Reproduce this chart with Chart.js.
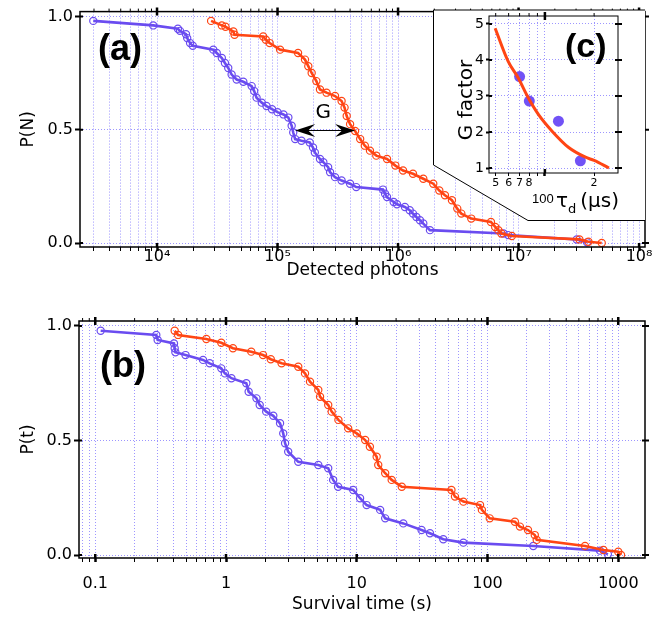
<!DOCTYPE html>
<html>
<head>
<meta charset="utf-8">
<script src="https://cdn.jsdelivr.net/npm/chart.js@4"></script>
<style>
  html, body { margin: 0; padding: 0; background: #fff; }
  #wrap { position: relative; width: 668px; height: 619px; overflow: hidden; }
  canvas { position: absolute; }
</style>
</head>
<body>
<div id="wrap">
  <canvas id="chartA" style="left:0px;top:0px" width="668" height="300"></canvas>
  <canvas id="chartB" style="left:0px;top:300px" width="668" height="319"></canvas>
  <canvas id="chartC" style="left:430px;top:0px" width="238" height="225"></canvas>
</div>
<script>
// (a) cumulative probability vs detected photons
const photonsBlue = [2.96e3, 9.3e3, 1.49e4, 1.55e4, 1.74e4, 1.78e4, 1.88e4, 1.98e4, 2.93e4, 3.13e4, 3.45e4, 3.66e4, 3.9e4, 4.16e4, 4.58e4, 5.2e4, 6.1e4, 6.4e4, 6.7e4, 7.4e4, 8.1e4, 9.0e4, 1.0e5, 1.12e5, 1.23e5, 1.31e5, 1.35e5, 1.4e5, 1.58e5, 1.85e5, 1.97e5, 2.04e5, 2.25e5, 2.4e5, 2.63e5, 2.73e5, 3.0e5, 3.4e5, 4.0e5, 4.5e5, 7.5e5, 7.8e5, 8.1e5, 9.2e5, 9.8e5, 1.14e6, 1.25e6, 1.33e6, 1.42e6, 1.52e6, 1.62e6, 1.84e6, 7.5e6, 8.2e6, 3.04e7, 3.7e7];
const probBlueA = [0.981, 0.961, 0.946, 0.937, 0.922, 0.905, 0.883, 0.871, 0.854, 0.839, 0.817, 0.795, 0.773, 0.744, 0.722, 0.712, 0.693, 0.671, 0.642, 0.620, 0.605, 0.591, 0.578, 0.568, 0.554, 0.518, 0.488, 0.459, 0.452, 0.444, 0.422, 0.400, 0.371, 0.357, 0.335, 0.313, 0.291, 0.276, 0.262, 0.247, 0.236, 0.218, 0.203, 0.181, 0.171, 0.159, 0.145, 0.130, 0.115, 0.101, 0.086, 0.057, 0.042, 0.035, 0.016, 0.003];
const photonsOrange = [2.81e4, 3.45e4, 3.7e4, 4.3e4, 4.4e4, 7.6e4, 8.0e4, 8.6e4, 1.05e5, 1.48e5, 1.69e5, 1.8e5, 1.92e5, 2.1e5, 2.25e5, 2.55e5, 3.0e5, 3.4e5, 3.6e5, 3.75e5, 4.0e5, 4.4e5, 4.85e5, 5.3e5, 5.85e5, 6.6e5, 8.1e5, 9.5e5, 1.1e6, 1.33e6, 1.62e6, 1.96e6, 2.2e6, 2.45e6, 2.8e6, 3.1e6, 3.35e6, 4.05e6, 5.9e6, 6.4e6, 6.8e6, 7.2e6, 8.8e6, 3.2e7, 3.8e7, 4.9e7];
const probOrangeA = [0.981, 0.961, 0.955, 0.934, 0.920, 0.912, 0.898, 0.883, 0.854, 0.839, 0.810, 0.781, 0.751, 0.715, 0.678, 0.664, 0.649, 0.627, 0.598, 0.561, 0.525, 0.495, 0.459, 0.430, 0.408, 0.386, 0.371, 0.342, 0.320, 0.306, 0.284, 0.262, 0.232, 0.211, 0.189, 0.152, 0.130, 0.108, 0.093, 0.071, 0.057, 0.042, 0.031, 0.016, 0.006, 0.0];

// (b) cumulative probability vs survival time (s)
const timeBlue = [0.110, 0.293, 0.30, 0.40, 0.405, 0.41, 0.49, 0.667, 0.75, 0.92, 0.98, 1.1, 1.43, 1.49, 1.71, 1.81, 2.03, 2.3, 2.59, 2.74, 2.83, 2.99, 3.57, 5.08, 6.05, 6.6, 7.2, 9.4, 10.6, 11.9, 15.1, 16.5, 22.7, 31.3, 36.3, 45.9, 65.4, 224, 725, 833];
const probBlueB = [0.979, 0.961, 0.939, 0.924, 0.903, 0.885, 0.873, 0.852, 0.837, 0.815, 0.793, 0.772, 0.750, 0.713, 0.684, 0.655, 0.626, 0.608, 0.575, 0.531, 0.488, 0.451, 0.407, 0.393, 0.379, 0.328, 0.298, 0.284, 0.248, 0.218, 0.197, 0.160, 0.138, 0.109, 0.095, 0.069, 0.054, 0.039, 0.019, 0.003];
const timeOrange = [0.405, 0.43, 0.707, 0.92, 1.13, 1.56, 1.92, 2.2, 2.66, 3.57, 4.02, 4.39, 5.08, 5.24, 6.05, 6.43, 7.24, 8.6, 10.0, 11.6, 12.6, 14.2, 14.6, 16.5, 18.5, 22.1, 53, 56.4, 65.4, 87.7, 90.6, 104, 162, 177, 204, 230, 238, 557, 770, 1000, 1050];
const probOrangeB = [0.979, 0.961, 0.943, 0.927, 0.903, 0.888, 0.873, 0.855, 0.837, 0.822, 0.793, 0.757, 0.721, 0.691, 0.655, 0.626, 0.590, 0.553, 0.531, 0.502, 0.473, 0.429, 0.393, 0.357, 0.328, 0.298, 0.284, 0.255, 0.233, 0.218, 0.197, 0.160, 0.145, 0.124, 0.109, 0.087, 0.066, 0.039, 0.022, 0.014, 0.0];

// (c) G factor vs dark time (us)
const tauFit = [49.6, 59.6, 68.7, 79.1, 91.2, 110.3, 139.8, 177, 200, 246.6];
const gFit = [4.88, 3.96, 3.50, 2.95, 2.49, 2.03, 1.57, 1.30, 1.21, 1.0];
const tauMeas = [70, 80.3, 121, 164.8];
const gMeas = [3.54, 2.86, 2.30, 1.20];

// ticks
const photonMajor = [1e4, 1e5, 1e6, 1e7, 1e8];
const photonMajorLabels = ['10⁴', '10⁵', '10⁶', '10⁷', '10⁸'];
const timeMajor = [0.1, 1, 10, 100, 1000];
const timeMajorLabels = ['0.1', '1', '10', '100', '1000'];
const tauTicks = [50, 60, 70, 80, 90, 100, 200];
const tauTickLabels = ['5', '6', '7', '8', '', '', '2'];
const gTicks = [1, 2, 3, 4, 5];
const probTicks = [0, 0.5, 1];

// G arrow annotation in panel (a): photons at the P = 0.5 crossing
const gArrow = { from: 1.4e5, to: 4.4e5, level: 0.497 };
const gLabel = { at: 2.4e5, level: 0.575 };

const BLUE = '#6a4cf0';
const ORANGE = '#ff4514';
const DOT = '#7152f6';
const GRID = '#9d96ff';
const FONT = '"DejaVu Sans", sans-serif';

function pts(xs, ys) {
  return xs.map((x, i) => ({ x: x, y: ys[i] }));
}

function isDecade(v) {
  const l = Math.log10(v);
  return Math.abs(l - Math.round(l)) < 1e-9;
}

// 1..9 x 10^e between two exponents
function logTicks(e0, e1) {
  const out = [];
  for (let e = e0; e <= e1; e++) {
    for (let m = 1; m <= 9; m++) out.push(+(m * Math.pow(10, e)).toPrecision(6));
  }
  return out;
}

function curve(xs, ys, color) {
  return {
    data: pts(xs, ys),
    borderColor: color,
    borderWidth: 2.6,
    pointRadius: 3.6,
    pointBorderWidth: 1.2,
    pointBorderColor: color,
    pointBackgroundColor: 'rgba(0,0,0,0)',
    tension: 0
  };
}

function logAxis(min, max, vals, labelOf, o) {
  return {
    type: 'logarithmic',
    min: min,
    max: max,
    afterBuildTicks: ax => {
      ax.ticks = vals.filter(v => v > min && v < max).map(v => ({ value: v, major: isDecade(v) }));
    },
    afterFit: ax => { ax.height = o.height; },
    grid: {
      color: GRID, lineWidth: 1, drawTicks: true, tickLength: o.tickLength || 4,
      tickColor: '#000', tickWidth: c => (c.tick && c.tick.major ? 2.5 : 1)
    },
    border: { display: false, dash: [1, 2] },
    ticks: {
      autoSkip: false, maxRotation: 0, minRotation: 0, padding: o.pad, color: '#000',
      font: { family: FONT, size: o.fontSize, lineHeight: 1 },
      callback: labelOf
    },
    title: {
      display: !!o.title, text: o.title, color: '#000',
      font: { family: FONT, size: 17 }, padding: { top: 0, bottom: o.titlePad || 0 }
    }
  };
}

function linAxis(min, max, vals, o) {
  return {
    type: 'linear',
    min: min,
    max: max,
    afterBuildTicks: ax => { ax.ticks = vals.map(v => ({ value: v })); },
    afterFit: ax => { ax.width = o.width; },
    grid: { color: GRID, lineWidth: 1, tickLength: o.tickLength || 5, tickColor: '#000', tickWidth: 2 },
    border: { display: false, dash: [1, 2] },
    ticks: {
      padding: 2, color: '#000', font: { family: FONT, size: o.fontSize },
      callback: o.fmt
    },
    title: {
      display: !!o.title, text: o.title, color: '#000',
      font: { family: FONT, size: 17 }, padding: { top: o.titlePad || 0, bottom: 0 }
    }
  };
}

function majorLabel(majors, labels) {
  return v => {
    const k = majors.findIndex(m => Math.abs(m - v) / m < 1e-6);
    return k < 0 ? '' : labels[k];
  };
}

function framePlugin(width) {
  return {
    id: 'frame',
    afterDraw(chart) {
      const { ctx, chartArea: a, scales } = chart;
      ctx.save();
      ctx.strokeStyle = '#000';
      ctx.lineWidth = width;
      ctx.strokeRect(a.left, a.top, a.right - a.left, a.bottom - a.top);
      scales.x.ticks.forEach(t => {
        const px = scales.x.getPixelForValue(t.value);
        ctx.beginPath();
        if (t.major) {
          ctx.lineWidth = 2.5;
          ctx.moveTo(px, a.top - 4); ctx.lineTo(px, a.top + 4);
          ctx.moveTo(px, a.bottom); ctx.lineTo(px, a.bottom - 4);
        } else {
          ctx.lineWidth = 1;
          ctx.moveTo(px, a.top - 3); ctx.lineTo(px, a.top);
        }
        ctx.stroke();
      });
      ctx.lineWidth = 2;
      scales.y.ticks.forEach(t => {
        const py = scales.y.getPixelForValue(t.value);
        ctx.beginPath();
        ctx.moveTo(a.right - 3, py); ctx.lineTo(a.right + 4, py);
        ctx.moveTo(a.left, py); ctx.lineTo(a.left + 3, py);
        ctx.stroke();
      });
      ctx.restore();
    }
  };
}

function arrowHead(ctx, tip, y, dir) {
  ctx.beginPath();
  ctx.moveTo(tip, y);
  ctx.lineTo(tip + dir * 20, y - 6.5);
  ctx.lineTo(tip + dir * 13, y);
  ctx.lineTo(tip + dir * 20, y + 6.5);
  ctx.closePath();
  ctx.fill();
}

const common = {
  responsive: false,
  animation: false,
  devicePixelRatio: 1,
  events: [],
  plugins: { legend: { display: false }, tooltip: { enabled: false } }
};

// panel (a)
new Chart(document.getElementById('chartA'), {
  type: 'line',
  data: { datasets: [curve(photonsOrange, probOrangeA, ORANGE), curve(photonsBlue, probBlueA, BLUE)] },
  options: Object.assign({}, common, {
    layout: { padding: { left: 0, right: 23, top: 10, bottom: 0 } },
    scales: {
      x: logAxis(2296, 1.12e8, logTicks(3, 8), majorLabel(photonMajor, photonMajorLabels),
        { height: 53, fontSize: 16, pad: -2, title: 'Detected photons', titlePad: 19 }),
      y: linAxis(-0.0175, 1.022, probTicks,
        { width: 80, fontSize: 16, title: 'P(N)', titlePad: 18, fmt: v => v.toFixed(1) })
    }
  }),
  plugins: [framePlugin(1.5), {
    id: 'notesA',
    afterDraw(chart) {
      const { ctx, scales: { x, y } } = chart;
      ctx.save();
      ctx.fillStyle = '#000';
      ctx.font = 'bold 36px "Liberation Sans", Arial, sans-serif';
      ctx.fillText('(a)', 98, 60);
      ctx.font = '20px ' + FONT;
      ctx.textAlign = 'center';
      ctx.textBaseline = 'middle';
      ctx.fillText('G', x.getPixelForValue(gLabel.at), y.getPixelForValue(gLabel.level));
      const x1 = x.getPixelForValue(gArrow.from);
      const x2 = x.getPixelForValue(gArrow.to);
      const yy = y.getPixelForValue(gArrow.level);
      ctx.strokeStyle = '#000';
      ctx.lineWidth = 1;
      ctx.beginPath();
      ctx.moveTo(x1 + 10, yy); ctx.lineTo(x2 - 10, yy);
      ctx.stroke();
      arrowHead(ctx, x1, yy, 1);
      arrowHead(ctx, x2, yy, -1);
      ctx.restore();
    }
  }]
});

// panel (b)
new Chart(document.getElementById('chartB'), {
  type: 'line',
  data: { datasets: [curve(timeOrange, probOrangeB, ORANGE), curve(timeBlue, probBlueB, BLUE)] },
  options: Object.assign({}, common, {
    layout: { padding: { left: 0, right: 23, top: 21, bottom: 0 } },
    scales: {
      x: logAxis(0.0751, 1602, logTicks(-2, 3), majorLabel(timeMajor, timeMajorLabels),
        { height: 61, fontSize: 16, pad: 14, title: 'Survival time (s)', titlePad: 4 }),
      y: linAxis(-0.0131, 1.0218, probTicks,
        { width: 79, fontSize: 16, title: 'P(t)', titlePad: 18, fmt: v => v.toFixed(1) })
    }
  }),
  plugins: [framePlugin(1.5), {
    id: 'notesB',
    afterDraw(chart) {
      const ctx = chart.ctx;
      ctx.save();
      ctx.fillStyle = '#000';
      ctx.font = 'bold 36px "Liberation Sans", Arial, sans-serif';
      ctx.fillText('(b)', 100, 77);
      ctx.restore();
    }
  }]
});

// inset (c)
new Chart(document.getElementById('chartC'), {
  type: 'line',
  data: {
    datasets: [
      { data: pts(tauFit, gFit), borderColor: ORANGE, borderWidth: 3, pointRadius: 0, tension: 0.4, cubicInterpolationMode: 'monotone' },
      { data: pts(tauMeas, gMeas), showLine: false, pointRadius: 5.5, pointBorderWidth: 0, pointBackgroundColor: DOT, borderColor: DOT }
    ]
  },
  options: Object.assign({}, common, {
    layout: { padding: { left: 0, right: 50, top: 16, bottom: 0 } },
    scales: {
      x: logAxis(45.5, 280, tauTicks, majorLabel(tauTicks, tauTickLabels),
        { height: 52, fontSize: 11, pad: 1.5, tickLength: 3 }),
      y: linAxis(0.862, 5.22, gTicks, { width: 59, fontSize: 14, tickLength: 3, fmt: v => String(v) })
    }
  }),
  plugins: [{
    id: 'insetBox',
    beforeDraw(chart) {
      const ctx = chart.ctx;
      ctx.save();
      ctx.fillStyle = '#fff';
      ctx.strokeStyle = '#000';
      ctx.lineWidth = 1;
      ctx.beginPath();
      ctx.moveTo(215, 10);
      ctx.lineTo(3.5, 10);
      ctx.lineTo(3.5, 165);
      ctx.lineTo(98, 220.5);
      ctx.lineTo(215, 220.5);
      ctx.fill();
      ctx.stroke();
      ctx.restore();
    },
    afterDraw(chart) {
      const ctx = chart.ctx;
      ctx.save();
      ctx.fillStyle = '#000';
      ctx.font = 'bold 34px "Liberation Sans", Arial, sans-serif';
      ctx.fillText('(c)', 135, 57);
      ctx.save();
      ctx.translate(37, 100);
      ctx.rotate(-Math.PI / 2);
      ctx.font = '20px ' + FONT;
      ctx.textAlign = 'center';
      ctx.textBaseline = 'middle';
      ctx.fillText('G factor', 0, 0);
      ctx.restore();
      ctx.font = '13px "Liberation Sans", Arial, sans-serif';
      ctx.fillText('100', 102, 203);
      let cx = 126;
      ctx.font = '20px ' + FONT;
      ctx.fillText('τ', cx, 207);
      cx += ctx.measureText('τ').width;
      ctx.font = '13px ' + FONT;
      ctx.fillText('d', cx, 213);
      cx += ctx.measureText('d').width + 4;
      ctx.font = '20px ' + FONT;
      ctx.fillText('(μs)', cx, 207);
      ctx.restore();
    }
  }, framePlugin(1)]
});
</script>
</body>
</html>
